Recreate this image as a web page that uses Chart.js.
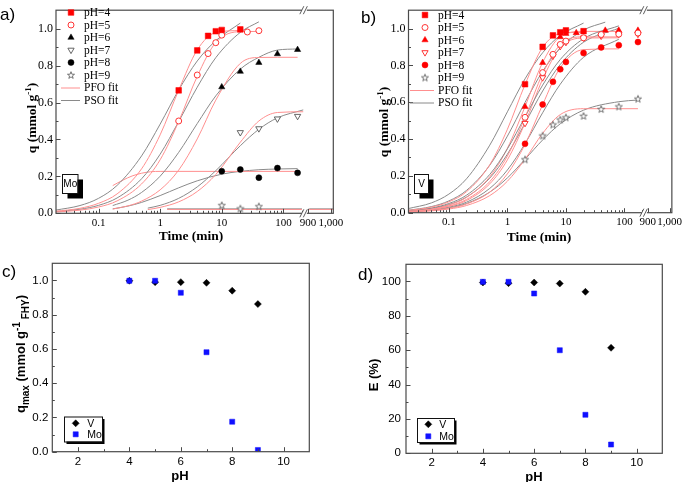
<!DOCTYPE html>
<html>
<head>
<meta charset="utf-8">
<title>Mo / V sorption on ferrihydrite</title>
<script src="https://cdn.jsdelivr.net/npm/chart.js@4.4.1/dist/chart.umd.min.js"></script>
<style>
  html, body { margin: 0; padding: 0; background: #fff; }
  #fig { position: relative; width: 685px; height: 482px; }
  #fig canvas { position: absolute; left: 0; top: 0; }
</style>
</head>
<body>
<div id="fig">
  <canvas id="chartA" width="685" height="482"></canvas>
  <canvas id="chartB" width="685" height="482"></canvas>
  <canvas id="chartC" width="685" height="482"></canvas>
  <canvas id="chartD" width="685" height="482"></canvas>
</div>
<script>
// ---------- a) Mo kinetics, measured (time in min, q in mmol/g)
const moT4 = [2, 4, 6, 8, 10, 20];
const moQ4 = [0.666, 0.882, 0.961, 0.986, 0.993, 0.996];
const moT5 = [2, 4, 6, 8, 10, 26, 40];
const moQ5 = [0.500, 0.749, 0.865, 0.924, 0.965, 0.982, 0.989];
const moT6 = [10, 20, 40, 80, 170];
const moQ6 = [0.684, 0.768, 0.816, 0.863, 0.886];
const moT7 = [20, 40, 80, 170];
const moQ7 = [0.438, 0.459, 0.512, 0.526];
const moT8 = [10, 20, 40, 80, 170];
const moQ8 = [0.228, 0.237, 0.193, 0.245, 0.219];
const moT9 = [10, 20, 40];
const moQ9 = [0.044, 0.026, 0.038];

// a) fitted curves
const moPfoT4 = [0.02, 0.05, 0.1, 0.2, 0.5, 1, 2, 4, 8, 20];
const moPfoQ4 = [0.011, 0.027, 0.054, 0.105, 0.241, 0.425, 0.667, 0.885, 0.979, 0.990];
const moPsoT4 = [0.02, 0.05, 0.1, 0.2, 0.5, 1, 2, 4, 8, 20];
const moPsoQ4 = [0.017, 0.042, 0.081, 0.151, 0.311, 0.483, 0.668, 0.825, 0.935, 1.030];
const moPfoT5 = [0.02, 0.05, 0.1, 0.2, 0.5, 1, 2, 4, 8, 20, 40];
const moPfoQ5 = [0.007, 0.017, 0.034, 0.067, 0.159, 0.290, 0.497, 0.742, 0.925, 0.984, 0.985];
const moPsoT5 = [0.02, 0.05, 0.1, 0.2, 0.5, 1, 2, 4, 8, 20, 40];
const moPsoQ5 = [0.009, 0.022, 0.043, 0.083, 0.187, 0.320, 0.497, 0.683, 0.843, 0.980, 1.037];
const moPfoT6 = [0.17, 0.3, 0.5, 1, 2, 4, 8, 20, 40, 80, 170];
const moPfoQ6 = [0.023, 0.040, 0.066, 0.127, 0.234, 0.403, 0.613, 0.812, 0.844, 0.845, 0.845];
const moPsoT6 = [0.17, 0.3, 0.5, 1, 2, 4, 8, 20, 40, 80, 170];
const moPsoQ6 = [0.042, 0.071, 0.113, 0.201, 0.330, 0.486, 0.636, 0.781, 0.845, 0.884, 0.890];
const moPfoT7 = [0.63, 1, 2, 4, 8, 20, 40, 80, 210];
const moPfoQ7 = [0.020, 0.032, 0.062, 0.118, 0.210, 0.385, 0.500, 0.546, 0.550];
const moPsoT7 = [0.63, 1, 2, 4, 8, 20, 40, 80, 210];
const moPsoQ7 = [0.028, 0.043, 0.081, 0.143, 0.231, 0.366, 0.455, 0.517, 0.560];
const moPfoT8 = [0.17, 0.25, 0.35, 0.5, 0.7, 1, 10, 170];
const moPfoQ8 = [0.150, 0.180, 0.202, 0.217, 0.225, 0.227, 0.227, 0.227];
const moPsoT8 = [0.17, 0.3, 0.5, 1, 2, 4, 10, 20, 40, 80, 170];
const moPsoQ8 = [0.024, 0.039, 0.059, 0.096, 0.138, 0.176, 0.212, 0.227, 0.236, 0.240, 0.242];
const moFitT9 = [1.3, 200, 205, 905, 1030];
const moPfoQ9 = [0.021, 0.021, null, 0.021, 0.021];
const moPsoQ9 = [0.024, 0.024, null, 0.024, 0.024];

// ---------- b) V kinetics, measured
const vT4 = [2, 4, 6, 8, 10, 20];
const vQ4 = [0.698, 0.901, 0.963, 0.980, 0.990, 0.986];
const vT5 = [2, 4, 6, 8, 10, 20, 40, 80, 170];
const vQ5 = [0.518, 0.761, 0.860, 0.914, 0.932, 0.950, 0.968, 0.970, 0.976];
const vT6 = [2, 4, 8, 10, 15, 47, 80, 170];
const vQ6 = [0.576, 0.815, 0.955, 0.973, 0.977, 0.990, 0.990, 0.990];
const vT7 = [2, 4, 6, 8, 10, 20, 40, 80, 170];
const vQ7 = [0.486, 0.734, 0.851, 0.904, 0.926, 0.950, 0.960, 0.970, 0.970];
const vT8 = [2, 4, 6, 8, 10, 20, 40, 80, 170];
const vQ8 = [0.374, 0.588, 0.711, 0.779, 0.819, 0.867, 0.898, 0.910, 0.927];
const vT9 = [2, 4, 6, 8, 10, 20, 40, 80, 170];
const vQ9 = [0.290, 0.419, 0.479, 0.506, 0.518, 0.526, 0.563, 0.577, 0.619];

// b) fitted curves
const vFitT20 = [0.02, 0.05, 0.1, 0.2, 0.5, 1, 2, 4, 8, 20];
const vFitT47 = [0.02, 0.05, 0.1, 0.2, 0.5, 1, 2, 4, 8, 20, 47];
const vFitT80 = [0.02, 0.05, 0.1, 0.2, 0.5, 1, 2, 4, 8, 20, 80];
const vFitT170 = [0.02, 0.05, 0.1, 0.2, 0.5, 1, 2, 4, 8, 20, 80, 170];
const vPfoQ4 = [0.012, 0.030, 0.059, 0.114, 0.261, 0.453, 0.696, 0.898, 0.973, 0.980];
const vPsoQ4 = [0.022, 0.053, 0.101, 0.184, 0.367, 0.548, 0.727, 0.869, 0.963, 1.030];
const vPfoQ5 = [0.007, 0.018, 0.037, 0.072, 0.169, 0.308, 0.518, 0.755, 0.913, 0.955, 0.955];
const vPsoQ5 = [0.010, 0.025, 0.050, 0.095, 0.208, 0.347, 0.520, 0.693, 0.832, 0.945, 1.015];
const vPfoQ6 = [0.009, 0.021, 0.042, 0.083, 0.195, 0.350, 0.576, 0.816, 0.956, 0.985, 0.985];
const vPsoQ6 = [0.013, 0.033, 0.064, 0.121, 0.258, 0.416, 0.599, 0.768, 0.894, 0.992, 1.035];
const vPfoQ7 = [0.007, 0.017, 0.034, 0.066, 0.157, 0.287, 0.487, 0.725, 0.897, 0.949, 0.950];
const vPsoQ7 = [0.009, 0.023, 0.044, 0.085, 0.188, 0.318, 0.486, 0.661, 0.805, 0.926, 1.002];
const vPfoQ8 = [0.005, 0.012, 0.024, 0.047, 0.112, 0.211, 0.371, 0.587, 0.788, 0.886, 0.890];
const vPsoQ8 = [0.006, 0.015, 0.030, 0.057, 0.132, 0.232, 0.375, 0.543, 0.698, 0.844, 0.942];
const vPfoQ9 = [0.004, 0.010, 0.020, 0.039, 0.093, 0.171, 0.290, 0.431, 0.533, 0.565, 0.565, 0.565];
const vPsoQ9 = [0.005, 0.013, 0.026, 0.050, 0.112, 0.189, 0.290, 0.395, 0.483, 0.557, 0.603, 0.612];

// ---------- c), d) pH edges
const phValues = [4, 5, 6, 7, 8, 9];
const qmaxV = [0.998, 0.990, 0.990, 0.986, 0.940, 0.862];
const qmaxMo = [0.998, 0.998, 0.928, 0.581, 0.175, 0.010];
const removalV = [99.4, 99.0, 99.4, 98.8, 94.0, 61.4];
const removalMo = [99.8, 99.8, 93.0, 60.0, 22.4, 5.1];

// time axis tick labels (broken log axis)
const timeTicks = [0.1, 1, 10, 100, 900, 1000];
const timeTickLabels = ["0.1", "1", "10", "100", "900", "1,000"];

// ---------- styling
const SERIF = '"Liberation Serif", "Times New Roman", serif';
const SANS = '"Liberation Sans", Arial, sans-serif';
const FRAME = "#4a4a4a";
const PFO_COLOR = "#ff8f8f";
const PSO_COLOR = "#8a8a8a";
const U_MIN = -1.69, U_MAX = 2.81, U_BREAK = 2.34;

// log10 for the left part, linear stretch after the axis break
function xPos(t) {
  return t < 500 ? Math.log10(t) : 2.40 + (t - 900) * 0.0037;
}
function pts(ts, qs) {
  return ts.map((t, i) => ({ x: xPos(t), y: qs[i] }));
}
function xy(xs, ys) {
  return xs.map((x, i) => ({ x: x, y: ys[i] }));
}

function starImage(color) {
  const c = document.createElement("canvas");
  c.width = 10; c.height = 10;
  const g = c.getContext("2d");
  g.beginPath();
  for (let i = 0; i < 10; i++) {
    const r = i % 2 ? 1.5 : 3.7;
    const ang = -Math.PI / 2 + i * Math.PI / 5;
    g.lineTo(5 + r * Math.cos(ang), 5.4 + r * Math.sin(ang));
  }
  g.closePath();
  g.fillStyle = "#fff";
  g.fill();
  g.strokeStyle = color;
  g.lineWidth = 0.8;
  g.stroke();
  return c;
}

const sqRed = { pointStyle: "rect", pointRadius: 4.0, pointBackgroundColor: "#ff0000", pointBorderColor: "#ff0000", pointBorderWidth: 0.5 };
const circRed = { pointStyle: "circle", pointRadius: 3.0, pointBackgroundColor: "#fff", pointBorderColor: "#ff2020", pointBorderWidth: 0.9 };
const triBlack = { pointStyle: "triangle", pointRadius: 3.6, pointBackgroundColor: "#000", pointBorderColor: "#000", pointBorderWidth: 0.5 };
const triRed = { pointStyle: "triangle", pointRadius: 3.6, pointBackgroundColor: "#ff0000", pointBorderColor: "#ff0000", pointBorderWidth: 0.5 };
const invGray = { pointStyle: "triangle", pointRotation: 180, pointRadius: 3.6, pointBackgroundColor: "#fff", pointBorderColor: "#555", pointBorderWidth: 0.9 };
const invRed = { pointStyle: "triangle", pointRotation: 180, pointRadius: 3.6, pointBackgroundColor: "#fff", pointBorderColor: "#ff2020", pointBorderWidth: 0.9 };
const dotBlack = { pointStyle: "circle", pointRadius: 3.0, pointBackgroundColor: "#000", pointBorderColor: "#000", pointBorderWidth: 0.5 };
const dotRed = { pointStyle: "circle", pointRadius: 3.0, pointBackgroundColor: "#ff0000", pointBorderColor: "#ff0000", pointBorderWidth: 0.5 };
const starGray = { pointStyle: starImage("#555"), pointRadius: 4 };
const diaBlack = { pointStyle: "rectRot", pointRadius: 3.5, pointBackgroundColor: "#000", pointBorderColor: "#000", pointBorderWidth: 0.5 };
const sqBlue = { pointStyle: "rect", pointRadius: 3.6, pointBackgroundColor: "#1010ff", pointBorderColor: "#1010ff", pointBorderWidth: 0.5 };

function marks(data, style) {
  return Object.assign({ data: data, showLine: false }, style);
}
function fitLine(data, color) {
  return {
    data: data, showLine: true, borderColor: color, borderWidth: 1,
    pointRadius: 0, cubicInterpolationMode: "monotone", fill: false, spanGaps: false
  };
}

function drawMarker(ctx, ds, x, y) {
  ctx.save();
  ctx.fillStyle = ds.pointBackgroundColor || "#000";
  ctx.strokeStyle = ds.pointBorderColor || "#000";
  ctx.lineWidth = ds.pointBorderWidth || 1;
  Chart.helpers.drawPoint(ctx, {
    pointStyle: ds.pointStyle, rotation: ds.pointRotation || 0,
    radius: ds.pointRadius, borderWidth: ds.pointBorderWidth || 1
  }, x, y);
  ctx.restore();
}

// text made of runs (for super/subscripts)
function drawRuns(ctx, runs, cx, cy, vertical) {
  ctx.save();
  ctx.translate(cx, cy);
  if (vertical) ctx.rotate(-Math.PI / 2);
  let total = 0;
  runs.forEach(r => { ctx.font = r.font; r.w = ctx.measureText(r.text).width; total += r.w; });
  let x = -total / 2;
  ctx.textAlign = "left";
  ctx.textBaseline = "alphabetic";
  ctx.fillStyle = "#000";
  runs.forEach(r => { ctx.font = r.font; ctx.fillText(r.text, x, r.dy || 0); x += r.w; });
  ctx.restore();
}

function tagBox(ctx, text, x, y, w, h, off, font) {
  ctx.fillStyle = "#000";
  ctx.fillRect(x + off, y + off, w, h);
  ctx.fillStyle = "#fff";
  ctx.fillRect(x, y, w, h);
  ctx.strokeStyle = "#111";
  ctx.lineWidth = 1;
  ctx.strokeRect(x + 0.5, y + 0.5, w, h);
  if (text) {
    ctx.fillStyle = "#000";
    ctx.font = font;
    ctx.textAlign = "center";
    ctx.textBaseline = "middle";
    ctx.fillText(text, x + w / 2 + 0.5, y + h / 2 + 1);
  }
}

function decoPlugin(p) {
  return {
    id: "deco",
    afterDraw(chart) {
      const ctx = chart.ctx, a = chart.chartArea;
      const xs = chart.scales.x, ys = chart.scales.y;
      ctx.save();
      ctx.strokeStyle = FRAME;
      ctx.lineWidth = 1;
      const seg = (x1, y1, x2, y2) => { ctx.beginPath(); ctx.moveTo(x1, y1); ctx.lineTo(x2, y2); ctx.stroke(); };
      p.xMajor.forEach(v => { const px = Math.round(xs.getPixelForValue(v)) + 0.5; seg(px, a.bottom, px, a.bottom - 4.5); });
      p.xMinor.forEach(v => { const px = Math.round(xs.getPixelForValue(v)) + 0.5; seg(px, a.bottom, px, a.bottom - 2.5); });
      p.yMajor.forEach(v => { const py = Math.round(ys.getPixelForValue(v)) + 0.5; seg(a.left, py, a.left + 4.5, py); });
      p.yMinor.forEach(v => { const py = Math.round(ys.getPixelForValue(v)) + 0.5; seg(a.left, py, a.left + 2.5, py); });
      ctx.lineWidth = 1.2;
      ctx.strokeRect(a.left, a.top, a.right - a.left, a.bottom - a.top);
      if (p.brk !== undefined) {
        const bx = xs.getPixelForValue(p.brk);
        [a.top, a.bottom].forEach(yy => {
          ctx.fillStyle = "#fff";
          ctx.fillRect(bx - 2.5, yy - 1.5, 5, 3);
          ctx.lineWidth = 0.9;
          seg(bx - 4.5, yy + 4, bx - 0.5, yy - 4);
          seg(bx - 1, yy + 4, bx + 3, yy - 4);
        });
      }
      p.extra(ctx, chart);
      ctx.restore();
    }
  };
}

function buildPanel(canvasId, p) {
  const yW = 40, xH = 22;
  return new Chart(document.getElementById(canvasId), {
    type: "scatter",
    data: { datasets: p.datasets },
    options: {
      responsive: false,
      animation: false,
      events: [],
      layout: { padding: { left: p.area.l - yW, top: p.area.t, right: 685 - p.area.r, bottom: 482 - p.area.b - xH } },
      plugins: { legend: { display: false }, tooltip: { enabled: false } },
      scales: {
        x: {
          type: "linear", min: p.xMin, max: p.xMax,
          afterBuildTicks: s => { s.ticks = p.xMajor.map(v => ({ value: v })); },
          afterFit: s => { s.height = xH; },
          grid: { display: false, drawTicks: false },
          border: { display: false },
          ticks: { callback: (v, i) => p.xLabels[i], font: p.xFont || p.tickFont, color: "#000", padding: p.xPad, autoSkip: false, maxRotation: 0 }
        },
        y: {
          type: "linear", min: p.yMin, max: p.yMax,
          afterBuildTicks: s => { s.ticks = p.yMajor.map(v => ({ value: v })); },
          afterFit: s => { s.width = yW; },
          grid: { display: false, drawTicks: false },
          border: { display: false },
          ticks: { callback: (v, i) => p.yLabels[i], font: p.tickFont, color: "#000", padding: p.yPad }
        }
      }
    },
    plugins: [decoPlugin(p)]
  });
}

function logMinor() {
  const out = [];
  for (let d = -2; d <= 2; d++) {
    for (let k = 2; k <= 9; k++) {
      const u = Math.log10(k * Math.pow(10, d));
      if (u > U_MIN && u < U_BREAK - 0.02) out.push(u);
    }
  }
  return out;
}

function fitLegend(ctx, rows, mx, tx, y0, dy, lx1, lx2) {
  ctx.font = "11.5px " + SERIF;
  ctx.textAlign = "left";
  ctx.textBaseline = "middle";
  rows.forEach((r, i) => {
    const y = y0 + i * dy;
    if (r.line) {
      ctx.strokeStyle = r.line;
      ctx.lineWidth = 1;
      ctx.beginPath(); ctx.moveTo(lx1, y + 0.5); ctx.lineTo(lx2, y + 0.5); ctx.stroke();
    } else {
      drawMarker(ctx, r.ds, mx, y);
    }
    ctx.fillStyle = "#000";
    ctx.fillText(r.label, tx, y + 0.5);
  });
}

const timeMajor = timeTicks.map(xPos);
const qMajor = [0, 0.2, 0.4, 0.6, 0.8, 1.0];
const qLabels = ["0.0", "0.2", "0.4", "0.6", "0.8", "1.0"];
const qMinor = [0.1, 0.3, 0.5, 0.7, 0.9];

// ---------- panel a
const aMarks = [
  marks(pts(moT4, moQ4), sqRed),
  marks(pts(moT5, moQ5), circRed),
  marks(pts(moT6, moQ6), triBlack),
  marks(pts(moT7, moQ7), invGray),
  marks(pts(moT8, moQ8), dotBlack),
  marks(pts(moT9, moQ9), starGray)
];
const aFits = [
  fitLine(pts(moPfoT4, moPfoQ4), PFO_COLOR), fitLine(pts(moPsoT4, moPsoQ4), PSO_COLOR),
  fitLine(pts(moPfoT5, moPfoQ5), PFO_COLOR), fitLine(pts(moPsoT5, moPsoQ5), PSO_COLOR),
  fitLine(pts(moPfoT6, moPfoQ6), PFO_COLOR), fitLine(pts(moPsoT6, moPsoQ6), PSO_COLOR),
  fitLine(pts(moPfoT7, moPfoQ7), PFO_COLOR), fitLine(pts(moPsoT7, moPsoQ7), PSO_COLOR),
  fitLine(pts(moPfoT8, moPfoQ8), PFO_COLOR), fitLine(pts(moPsoT8, moPsoQ8), PSO_COLOR),
  fitLine(pts(moFitT9, moPfoQ9), PFO_COLOR), fitLine(pts(moFitT9, moPsoQ9), PSO_COLOR)
];
const phNames = ["pH=4", "pH=5", "pH=6", "pH=7", "pH=8", "pH=9"];

buildPanel("chartA", {
  area: { l: 56, t: 4.3, r: 333.3, b: 213.3 },
  xMin: U_MIN, xMax: U_MAX, yMin: 0, yMax: 1.1,
  xMajor: timeMajor, xLabels: timeTickLabels, xMinor: logMinor(),
  yMajor: qMajor, yLabels: qLabels, yMinor: qMinor,
  tickFont: { family: SERIF, size: 12 }, xFont: { family: SERIF, size: 11 }, xPad: 3, yPad: 3,
  brk: U_BREAK,
  datasets: aMarks.concat(aFits),
  extra(ctx) {
    const rows = aMarks.map((ds, i) => ({ ds: ds, label: phNames[i] }))
      .concat([{ line: PFO_COLOR, label: "PFO fit" }, { line: PSO_COLOR, label: "PSO fit" }]);
    fitLegend(ctx, rows, 71, 84, 12.5, 12.5, 61, 80);
    tagBox(ctx, "Mo", 62, 174, 15.5, 19, 5.5, "10px " + SANS);
    ctx.fillStyle = "#000";
    ctx.font = "17px " + SANS;
    ctx.textAlign = "left";
    ctx.textBaseline = "alphabetic";
    ctx.fillText("a)", 0, 20);
    const b = "bold 13.5px " + SERIF, s = "bold 9px " + SERIF;
    drawRuns(ctx, [{ text: "q (mmol g", font: b }, { text: "-1", font: s, dy: -5.5 }, { text: ")", font: b }], 36, 118, true);
    drawRuns(ctx, [{ text: "Time (min)", font: b }], 191, 240, false);
  }
});

// ---------- panel b
const bMarks = [
  marks(pts(vT4, vQ4), sqRed),
  marks(pts(vT5, vQ5), circRed),
  marks(pts(vT6, vQ6), triRed),
  marks(pts(vT7, vQ7), invRed),
  marks(pts(vT8, vQ8), dotRed),
  marks(pts(vT9, vQ9), starGray)
];
const bFits = [
  fitLine(pts(vFitT20, vPfoQ4), PFO_COLOR), fitLine(pts(vFitT20, vPsoQ4), PSO_COLOR),
  fitLine(pts(vFitT80, vPfoQ5), PFO_COLOR), fitLine(pts(vFitT80, vPsoQ5), PSO_COLOR),
  fitLine(pts(vFitT80, vPfoQ6), PFO_COLOR), fitLine(pts(vFitT47, vPsoQ6), PSO_COLOR),
  fitLine(pts(vFitT80, vPfoQ7), PFO_COLOR), fitLine(pts(vFitT80, vPsoQ7), PSO_COLOR),
  fitLine(pts(vFitT80, vPfoQ8), PFO_COLOR), fitLine(pts(vFitT80, vPsoQ8), PSO_COLOR),
  fitLine(pts(vFitT170, vPfoQ9), PFO_COLOR), fitLine(pts(vFitT170, vPsoQ9), PSO_COLOR)
];

buildPanel("chartB", {
  area: { l: 408.5, t: 8.8, r: 673, b: 212.7 },
  xMin: U_MIN, xMax: U_MAX, yMin: 0, yMax: 1.1,
  xMajor: timeMajor, xLabels: timeTickLabels, xMinor: logMinor(),
  yMajor: qMajor, yLabels: qLabels, yMinor: qMinor,
  tickFont: { family: SERIF, size: 12 }, xFont: { family: SERIF, size: 11 }, xPad: 3, yPad: 3,
  brk: U_BREAK,
  datasets: bMarks.concat(bFits),
  extra(ctx) {
    const rows = bMarks.map((ds, i) => ({ ds: ds, label: phNames[i] }))
      .concat([{ line: PFO_COLOR, label: "PFO fit" }, { line: PSO_COLOR, label: "PSO fit" }]);
    fitLegend(ctx, rows, 425, 438, 15, 12.5, 410, 434);
    tagBox(ctx, "V", 414, 174, 14, 19, 5.5, "10px " + SANS);
    ctx.fillStyle = "#000";
    ctx.font = "17px " + SANS;
    ctx.textAlign = "left";
    ctx.textBaseline = "alphabetic";
    ctx.fillText("b)", 361, 22.5);
    const b = "bold 13.5px " + SERIF, s = "bold 9px " + SERIF;
    drawRuns(ctx, [{ text: "q (mmol g", font: b }, { text: "-1", font: s, dy: -5.5 }, { text: ")", font: b }], 388, 122, true);
    drawRuns(ctx, [{ text: "Time (min)", font: b }], 539, 241, false);
  }
});

// ---------- panels c, d
const phMajor = [2, 4, 6, 8, 10];
const phLabels = ["2", "4", "6", "8", "10"];
const phMinor = [3, 5, 7, 9];

function pairLegend(ctx, mx, tx, y1, y2, box) {
  tagBox(ctx, "", box.x, box.y, box.w, box.h, 2.5, "");
  ctx.font = "10.5px " + SANS;
  ctx.textAlign = "left";
  ctx.textBaseline = "middle";
  drawMarker(ctx, diaBlack, mx, y1);
  drawMarker(ctx, sqBlue, mx, y2);
  ctx.fillStyle = "#000";
  ctx.fillText("V", tx, y1 + 0.5);
  ctx.fillText("Mo", tx, y2 + 0.5);
}

buildPanel("chartC", {
  area: { l: 52.3, t: 263.3, r: 309.3, b: 451.7 },
  xMin: 1, xMax: 11, yMin: 0, yMax: 1.1,
  xMajor: phMajor, xLabels: phLabels, xMinor: phMinor,
  yMajor: qMajor, yLabels: qLabels, yMinor: qMinor,
  tickFont: { family: SANS, size: 11.5 }, xPad: 3, yPad: 4,
  datasets: [marks(xy(phValues, qmaxMo), sqBlue), marks(xy(phValues, qmaxV), diaBlack)],
  extra(ctx) {
    pairLegend(ctx, 75.7, 87.3, 423.3, 434.3, { x: 64, y: 416.5, w: 38, h: 25 });
    ctx.fillStyle = "#000";
    ctx.font = "17px " + SANS;
    ctx.textAlign = "left";
    ctx.textBaseline = "alphabetic";
    ctx.fillText("c)", 2, 276.5);
    const b = "bold 13px " + SANS, s = "bold 10px " + SANS;
    drawRuns(ctx, [
      { text: "q", font: b }, { text: "max", font: s, dy: 3.5 },
      { text: " (mmol g", font: b }, { text: "-1", font: s, dy: -5 },
      { text: " FHY", font: s, dy: 3.5 }, { text: ")", font: b }
    ], 25, 354, true);
    drawRuns(ctx, [{ text: "pH", font: b }], 180, 480, false);
  }
});

buildPanel("chartD", {
  area: { l: 406, t: 264.3, r: 662.3, b: 453.3 },
  xMin: 1, xMax: 11, yMin: 0, yMax: 110,
  xMajor: phMajor, xLabels: phLabels, xMinor: phMinor,
  yMajor: [0, 20, 40, 60, 80, 100], yLabels: ["0", "20", "40", "60", "80", "100"], yMinor: [10, 30, 50, 70, 90],
  tickFont: { family: SANS, size: 11.5 }, xPad: 3, yPad: 5,
  datasets: [marks(xy(phValues, removalMo), sqBlue), marks(xy(phValues, removalV), diaBlack)],
  extra(ctx) {
    pairLegend(ctx, 428.3, 439.3, 424.3, 436.3, { x: 417, y: 418, w: 37, h: 24 });
    ctx.fillStyle = "#000";
    ctx.font = "17px " + SANS;
    ctx.textAlign = "left";
    ctx.textBaseline = "alphabetic";
    ctx.fillText("d)", 358, 280);
    const b = "bold 13px " + SANS;
    drawRuns(ctx, [{ text: "E (%)", font: b }], 378, 375, true);
    drawRuns(ctx, [{ text: "pH", font: b }], 534, 481, false);
  }
});
</script>
</body>
</html>
